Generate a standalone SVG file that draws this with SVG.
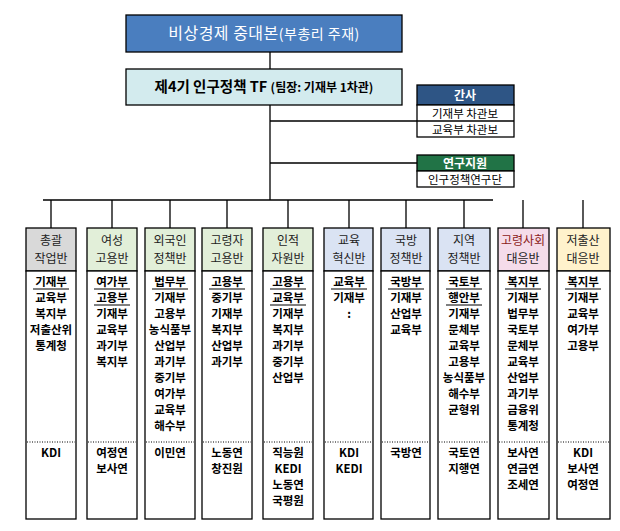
<svg xmlns="http://www.w3.org/2000/svg" width="620" height="531" viewBox="0 0 620 531">
<style>
.ln{stroke:#000;stroke-width:1.3;fill:none}
.bx{stroke:#000;stroke-width:1.3}
.h{font-family:"Noto Sans CJK KR",sans-serif;font-size:12px;text-anchor:middle;fill:#222}
.m{font-family:"Noto Sans CJK KR",sans-serif;font-size:11.5px;font-weight:bold;text-anchor:middle;fill:#000}
.s{font-family:"Noto Sans CJK KR",sans-serif;font-size:11.5px;text-anchor:middle;fill:#000}
.dot{stroke:#000;stroke-width:1;stroke-dasharray:1 1.5}
</style>
<rect width="620" height="531" fill="#fff"/>
<g id="connectors" class="ln">
<path d="M270 52V200M270 121H417M270 163H417M43 200H493"/>
<path d="M51 200V228M112 200V228M170 200V228M227 200V228M288 200V228M349 200V228M406 200V228M464 200V228M523 200V228M583 200V228"/>
</g>
<g id="top"><rect x="126" y="15" width="276" height="37" fill="#4a7ebf" class="bx"/>
<text x="264" y="39" font-family="Noto Sans CJK KR,sans-serif" font-size="16" fill="#fff" text-anchor="middle" letter-spacing="0.5">비상경제 중대본<tspan font-size="14">(부총리 주재)</tspan></text></g>
<g id="tf"><rect x="126" y="69" width="276" height="36" fill="#d3ebee" class="bx"/>
<text x="264" y="92" font-family="Noto Sans CJK KR,sans-serif" font-size="14.5" font-weight="bold" text-anchor="middle">제4기 인구정책 TF <tspan font-size="12">(팀장: 기재부 1차관)</tspan></text></g>
<g id="gansa"><rect x="417" y="85" width="97" height="20" fill="#2e5585" class="bx"/>
<text x="465" y="100" class="h" style="fill:#fff;font-weight:bold">간사</text>
<rect x="417" y="105" width="97" height="32" fill="#fff" class="bx"/><path class="ln" d="M417 121H514"/>
<text x="465" y="117.5" class="s">기재부 차관보</text><text x="465" y="133.5" class="s">교육부 차관보</text></g>
<g id="research"><rect x="417" y="155" width="97" height="16" fill="#217346" class="bx"/>
<text x="465" y="167.5" class="h" style="fill:#fff;font-weight:bold">연구지원</text>
<rect x="417" y="171" width="97" height="16" fill="#fff" class="bx"/>
<text x="465" y="183.5" class="s">인구정책연구단</text></g>
<g id="c1"><rect x="26" y="228" width="50" height="43" fill="#d9d9d9" class="bx"/><rect x="26" y="271" width="50" height="248" fill="#fff" class="bx"/><line class="dot" x1="27" y1="442" x2="75" y2="442"/>
<text class="h" x="51" y="245">총괄</text><text class="h" x="51" y="263">작업반</text>
<text class="m" x="51" y="286">기재부</text><line x1="33" y1="289" x2="69" y2="289" stroke="#000"/><text class="m" x="51" y="302">교육부</text><text class="m" x="51" y="318">복지부</text><text class="m" x="51" y="334" font-size="11">저출산위</text><text class="m" x="51" y="350">통계청</text>
<text class="m" x="51" y="457">KDI</text></g>
<g id="c2"><rect x="87" y="228" width="50" height="43" fill="#e2efd9" class="bx"/><rect x="87" y="271" width="50" height="248" fill="#fff" class="bx"/><line class="dot" x1="88" y1="442" x2="136" y2="442"/>
<text class="h" x="112" y="245">여성</text><text class="h" x="112" y="263">고용반</text>
<text class="m" x="112" y="286">여가부</text><line x1="94" y1="289" x2="130" y2="289" stroke="#000"/><text class="m" x="112" y="302">고용부</text><line x1="94" y1="305" x2="130" y2="305" stroke="#000"/><text class="m" x="112" y="318">기재부</text><text class="m" x="112" y="334">교육부</text><text class="m" x="112" y="350">과기부</text><text class="m" x="112" y="366">복지부</text>
<text class="m" x="112" y="457">여정연</text><text class="m" x="112" y="473">보사연</text></g>
<g id="c3"><rect x="145" y="228" width="50" height="43" fill="#e2efd9" class="bx"/><rect x="145" y="271" width="50" height="248" fill="#fff" class="bx"/><line class="dot" x1="146" y1="442" x2="194" y2="442"/>
<text class="h" x="170" y="245">외국인</text><text class="h" x="170" y="263">정책반</text>
<text class="m" x="170" y="286">법무부</text><line x1="152" y1="289" x2="188" y2="289" stroke="#000"/><text class="m" x="170" y="302">기재부</text><text class="m" x="170" y="318">고용부</text><text class="m" x="170" y="334" font-size="11">농식품부</text><text class="m" x="170" y="350">산업부</text><text class="m" x="170" y="366">과기부</text><text class="m" x="170" y="382">중기부</text><text class="m" x="170" y="398">여가부</text><text class="m" x="170" y="414">교육부</text><text class="m" x="170" y="430">해수부</text>
<text class="m" x="170" y="457">이민연</text></g>
<g id="c4"><rect x="202" y="228" width="50" height="43" fill="#e2efd9" class="bx"/><rect x="202" y="271" width="50" height="248" fill="#fff" class="bx"/><line class="dot" x1="203" y1="442" x2="251" y2="442"/>
<text class="h" x="227" y="245">고령자</text><text class="h" x="227" y="263">고용반</text>
<text class="m" x="227" y="286">고용부</text><line x1="209" y1="289" x2="245" y2="289" stroke="#000"/><text class="m" x="227" y="302">중기부</text><text class="m" x="227" y="318">기재부</text><text class="m" x="227" y="334">복지부</text><text class="m" x="227" y="350">산업부</text><text class="m" x="227" y="366">과기부</text>
<text class="m" x="227" y="457">노동연</text><text class="m" x="227" y="473">창진원</text></g>
<g id="c5"><rect x="263" y="228" width="50" height="43" fill="#e2efd9" class="bx"/><rect x="263" y="271" width="50" height="248" fill="#fff" class="bx"/><line class="dot" x1="264" y1="442" x2="312" y2="442"/>
<text class="h" x="288" y="245">인적</text><text class="h" x="288" y="263">자원반</text>
<text class="m" x="288" y="286">고용부</text><line x1="270" y1="289" x2="306" y2="289" stroke="#000"/><text class="m" x="288" y="302">교육부</text><line x1="270" y1="305" x2="306" y2="305" stroke="#000"/><text class="m" x="288" y="318">기재부</text><text class="m" x="288" y="334">복지부</text><text class="m" x="288" y="350">과기부</text><text class="m" x="288" y="366">중기부</text><text class="m" x="288" y="382">산업부</text>
<text class="m" x="288" y="457">직능원</text><text class="m" x="288" y="473">KEDI</text><text class="m" x="288" y="489">노동연</text><text class="m" x="288" y="505">국평원</text></g>
<g id="c6"><rect x="324" y="228" width="49" height="43" fill="#dae3f3" class="bx"/><rect x="324" y="271" width="49" height="248" fill="#fff" class="bx"/><line class="dot" x1="325" y1="442" x2="372" y2="442"/>
<text class="h" x="349" y="245">교육</text><text class="h" x="349" y="263">혁신반</text>
<text class="m" x="349" y="286">교육부</text><line x1="331" y1="289" x2="367" y2="289" stroke="#000"/><text class="m" x="349" y="302">기재부</text><text class="m" x="349" y="318">:</text>
<text class="m" x="349" y="457">KDI</text><text class="m" x="349" y="473">KEDI</text></g>
<g id="c7"><rect x="381" y="228" width="49" height="43" fill="#dae3f3" class="bx"/><rect x="381" y="271" width="49" height="248" fill="#fff" class="bx"/><line class="dot" x1="382" y1="442" x2="429" y2="442"/>
<text class="h" x="406" y="245">국방</text><text class="h" x="406" y="263">정책반</text>
<text class="m" x="406" y="286">국방부</text><line x1="388" y1="289" x2="424" y2="289" stroke="#000"/><text class="m" x="406" y="302">기재부</text><text class="m" x="406" y="318">산업부</text><text class="m" x="406" y="334">교육부</text>
<text class="m" x="406" y="457">국방연</text></g>
<g id="c8"><rect x="438" y="228" width="52" height="43" fill="#dae3f3" class="bx"/><rect x="438" y="271" width="52" height="248" fill="#fff" class="bx"/><line class="dot" x1="439" y1="442" x2="489" y2="442"/>
<text class="h" x="464" y="245">지역</text><text class="h" x="464" y="263">정책반</text>
<text class="m" x="464" y="286">국토부</text><line x1="446" y1="289" x2="482" y2="289" stroke="#000"/><text class="m" x="464" y="302">행안부</text><line x1="446" y1="305" x2="482" y2="305" stroke="#000"/><text class="m" x="464" y="318">기재부</text><text class="m" x="464" y="334">문체부</text><text class="m" x="464" y="350">교육부</text><text class="m" x="464" y="366">고용부</text><text class="m" x="464" y="382" font-size="11">농식품부</text><text class="m" x="464" y="398">해수부</text><text class="m" x="464" y="414">균형위</text>
<text class="m" x="464" y="457">국토연</text><text class="m" x="464" y="473">지행연</text></g>
<g id="c9"><rect x="498" y="228" width="51" height="43" fill="#f5dcea" class="bx"/><rect x="498" y="271" width="51" height="248" fill="#fff" class="bx"/><line class="dot" x1="499" y1="442" x2="548" y2="442"/>
<text class="h" x="523" y="245" style="fill:#8b1a1a">고령사회</text><text class="h" x="523" y="263">대응반</text>
<text class="m" x="523" y="286">복지부</text><line x1="505" y1="289" x2="541" y2="289" stroke="#000"/><text class="m" x="523" y="302">기재부</text><text class="m" x="523" y="318">법무부</text><text class="m" x="523" y="334">국토부</text><text class="m" x="523" y="350">문체부</text><text class="m" x="523" y="366">교육부</text><text class="m" x="523" y="382">산업부</text><text class="m" x="523" y="398">과기부</text><text class="m" x="523" y="414">금융위</text><text class="m" x="523" y="430">통계청</text>
<text class="m" x="523" y="457">보사연</text><text class="m" x="523" y="473">연금연</text><text class="m" x="523" y="489">조세연</text></g>
<g id="c10"><rect x="557" y="228" width="53" height="43" fill="#fff2cc" class="bx"/><rect x="557" y="271" width="53" height="248" fill="#fff" class="bx"/><line class="dot" x1="558" y1="442" x2="609" y2="442"/>
<text class="h" x="583" y="245">저출산</text><text class="h" x="583" y="263">대응반</text>
<text class="m" x="583" y="286">복지부</text><line x1="565" y1="289" x2="601" y2="289" stroke="#000"/><text class="m" x="583" y="302">기재부</text><text class="m" x="583" y="318">교육부</text><text class="m" x="583" y="334">여가부</text><text class="m" x="583" y="350">고용부</text>
<text class="m" x="583" y="457">KDI</text><text class="m" x="583" y="473">보사연</text><text class="m" x="583" y="489">여정연</text></g>
</svg>
